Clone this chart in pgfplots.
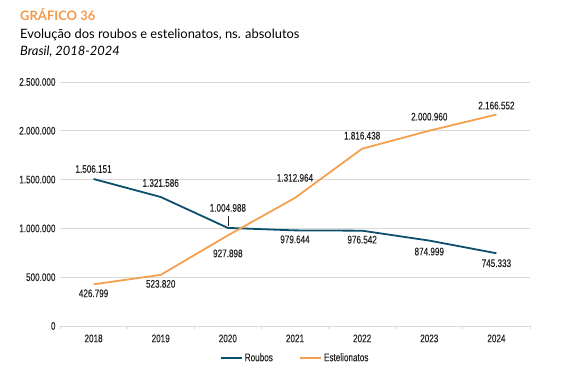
\documentclass[border=0pt]{standalone}
\usepackage{pgfplots}
\pgfplotsset{compat=1.18}
\usepackage{fontspec}
\setmainfont{Lato}
\newfontfamily\chartfont[FakeStretch=0.74, FakeBold=0.25]{Liberation Sans}
\definecolor{roubos}{HTML}{0B4F6C}
\definecolor{estel}{HTML}{F5A04F}
\definecolor{titleor}{HTML}{F39A4B}
\definecolor{gridc}{HTML}{D9D9D9}
\definecolor{txt}{HTML}{222222}

\pgfplotstableread{
x y dy lab
0 1506151 10 1.506.151
1 1321586 14 1.321.586
2 1004988 20 1.004.988
3 979644 -9 979.644
4 976542 -9 976.542
5 874999 -11 874.999
6 745333 -10 745.333
}\roubos

\pgfplotstableread{
x y dy lab
0 426799 -9 426.799
1 523820 -9 523.820
2 927898 -18 927.898
3 1312964 20 1.312.964
4 1816438 13 1.816.438
5 2000960 14 2.000.960
6 2166552 9 2.166.552
}\estel

\begin{document}
\begin{tikzpicture}
\useasboundingbox (0pt,0pt) rectangle (563pt,375pt);
\node[anchor=base west, inner sep=0pt, text=titleor, font=\fontsize{13}{15}\selectfont\bfseries] at (20pt,354pt) {GRÁFICO 36};
\node[anchor=base west, inner sep=0pt, text=black, font=\fontsize{12.9}{15}\selectfont] at (20pt,336pt) {Evolução dos roubos e estelionatos, ns. absolutos};
\node[anchor=base west, inner sep=0pt, text=black, font=\fontsize{12.9}{15}\selectfont\itshape] at (20pt,319pt) {Brasil, 2018-2024};
\begin{axis}[
  at={(60pt,49pt)}, anchor=south west,
  scale only axis, width=470pt, height=244pt,
  xmin=-0.5, xmax=6.5, ymin=0, ymax=2500000,
  axis x line*=bottom,
  axis y line*=left,
  x axis line style={draw=gridc, line width=0.9pt, -},
  y axis line style={draw=none, -},
  xtick={0,...,6},
  xticklabels={2018,2019,2020,2021,2022,2023,2024},
  major x tick style={draw=none},
  minor xtick={-0.5,0.5,1.5,2.5,3.5,4.5,5.5,6.5},
  minor x tick style={draw=gridc, line width=0.9pt},
  minor tick length=3pt,
  major tick length=0pt,
  tick align=outside,
  ytick={0,500000,1000000,1500000,2000000,2500000},
  yticklabels={0,500.000,1.000.000,1.500.000,2.000.000,2.500.000},
  scaled y ticks=false,
  ymajorgrids,
  major grid style={draw=gridc, line width=0.9pt},
  major y tick style={draw=none},
  tick label style={font=\chartfont\fontsize{11}{12}\selectfont, text=txt},
  yticklabel style={xshift=-1pt},
  xticklabel style={yshift=-5pt},
  clip=false,
  point meta=explicit symbolic,
  nodes near coords,
  visualization depends on={\thisrow{dy}\as\dy},
  every node near coord/.append style={anchor=center, yshift=\dy pt, font=\chartfont\fontsize{11}{12}\selectfont, text=txt, inner sep=0pt},
  legend style={at={(0.5,-0.131)}, anchor=center, draw=none, fill=none, legend columns=2,
    font=\chartfont\fontsize{11}{12}\selectfont, text=txt,
    /tikz/every even column/.append style={column sep=24pt}},
  legend cell align=left,
  legend image code/.code={\draw[#1, line width=2.2pt] (0pt,0pt) -- (21pt,0pt);},
]
\addplot[roubos, line width=1.8pt, line join=round, mark=none] table[x=x, y=y, meta=lab] {\roubos};
\addlegendentry{Roubos}
\addplot[estel, line width=1.8pt, line join=round, mark=none] table[x=x, y=y, meta=lab] {\estel};
\addlegendentry{Estelionatos}
\draw[txt, line width=0.7pt] (axis cs:2,1004988) ++(0pt,2pt) -- ++(0pt,10pt);
\end{axis}
\end{tikzpicture}
\end{document}
